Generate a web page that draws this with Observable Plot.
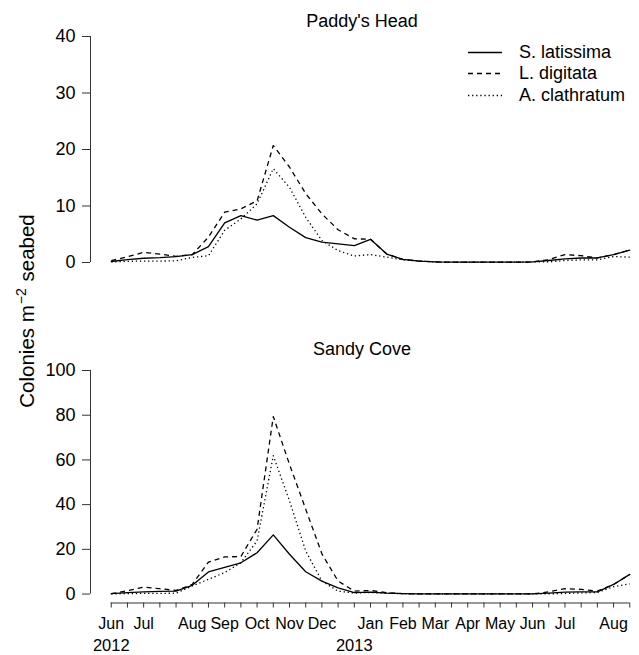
<!DOCTYPE html>
<html><head><meta charset="utf-8">
<script src="https://cdn.jsdelivr.net/npm/d3@7"></script>
<script src="https://cdn.jsdelivr.net/npm/@observablehq/plot@0.6"></script>
<style>
body{margin:0;background:#fff;font-family:"Liberation Sans",Arial,sans-serif;color:#000;}
#chart{position:relative;width:639px;height:655px;overflow:hidden;background:#fff;}
#chart > svg{position:absolute;left:0;}
.title{position:absolute;font-size:18px;line-height:18px;white-space:nowrap;transform:translateX(-50%);}
.ylab{position:absolute;font-size:20.5px;line-height:21px;white-space:nowrap;transform:translate(-50%,-50%) rotate(-90deg);}
.ylab sup{font-size:14px;vertical-align:8px;line-height:0;margin:0 1px;}
#legend{position:absolute;left:468px;top:42px;font-size:18px;}
#legend .row{display:flex;align-items:center;height:21.3px;}
#legend .row span{margin-left:17px;white-space:nowrap;}
</style></head><body><div id="chart"></div>
<script>
// ---- data ----
const sampleIndex = d3.range(33);
const monthTickIndex = [0,2,5,7,9,11,13,16,18,20,22,24,26,28,31];
const monthLabels = ["Jun","Jul","Aug","Sep","Oct","Nov","Dec","Jan","Feb","Mar","Apr","May","Jun","Jul","Aug"];
const yearTickIndex = [0,15];
const yearLabels = ["2012","2013"];
const species = ["S. latissima","L. digitata","A. clathratum"];
const panelTitles = ["Paddy's Head","Sandy Cove"];

const paddysLatissima = [0.18,0.5,0.75,0.85,1.05,1.4,2.8,7.0,8.3,7.5,8.3,6.25,4.4,3.6,3.3,3.0,4.1,1.5,0.55,0.25,0.1,0.05,0.05,0.05,0.05,0.05,0.1,0.35,0.65,0.8,0.8,1.4,2.2];
const paddysDigitata  = [0.35,1.0,1.8,1.5,1.1,1.4,4.5,8.9,9.5,10.9,20.7,16.9,12.2,8.6,5.8,4.2,4.1,1.5,0.55,0.25,0.1,0.05,0.05,0.05,0.05,0.05,0.1,0.5,1.4,1.2,0.8,1.4,2.2];
const paddysClathratum= [0.1,0.2,0.25,0.25,0.3,0.9,1.2,5.7,7.7,10.4,16.6,13.3,8.0,3.9,2.1,1.15,1.4,0.95,0.47,0.24,0.1,0.05,0.05,0.05,0.05,0.05,0.1,0.1,0.35,0.47,0.47,1.06,0.94];

const sandyLatissima  = [0.15,0.6,1.0,1.2,1.3,3.9,9.9,11.9,14.0,18.5,26.5,17.8,10.0,5.8,2.8,0.6,0.9,0.45,0.2,0.05,0.05,0.05,0.05,0.05,0.05,0.05,0.05,0.4,0.9,1.0,1.0,4.3,8.8];
const sandyDigitata   = [0.15,1.5,3.1,2.4,1.6,4.3,14.3,16.6,16.8,29,79.4,58,38,18,5.8,1.3,1.6,0.6,0.2,0.05,0.05,0.05,0.05,0.05,0.05,0.05,0.05,1.0,2.4,2.1,1.3,4.3,8.8];
const sandyClathratum = [0.1,0.2,0.3,0.3,0.4,3.6,6.6,9.6,14,23.8,61.9,41.7,19.3,5.8,1.3,0.45,0.7,0.4,0.2,0.05,0.05,0.05,0.05,0.05,0.05,0.05,0.05,0.05,0.3,0.5,0.7,3.3,4.6];

const paddysTicks = [0,10,20,30,40];
const sandyTicks = [0,20,40,60,80,100];

// ---- styling ----
const dashes = [null, "5,4", "1.3,2.8"];
const xDomain = [-1.28, 32.6];

function panel({series, yDomain, yTicks, height, marginTop, marginBottom, showX}) {
  const marks = [
    Plot.ruleX([xDomain[0]], {y1: yTicks[0], y2: yTicks[yTicks.length - 1], stroke: "#333", strokeWidth: 1}),
    Plot.axisY({ticks: yTicks, tickSize: 8, tickPadding: 7, fontSize: 18, stroke: "#333", label: null})
  ];
  species.forEach((s, k) => {
    const rows = series[k].map((v, i) => ({i: sampleIndex[i], v}));
    marks.push(Plot.line(rows, {x: "i", y: "v", stroke: "#000", strokeWidth: 1.3,
      strokeDasharray: dashes[k], strokeLinecap: k ? "butt" : "round", strokeLinejoin: "round"}));
  });
  if (showX) {
    marks.push(
      Plot.ruleY([yDomain[0]], {x1: sampleIndex[0], x2: sampleIndex[sampleIndex.length - 1], stroke: "#333"}),
      Plot.axisX({ticks: sampleIndex, tickSize: 5, stroke: "#333", tickFormat: () => "", label: null}),
      Plot.axisX({ticks: monthTickIndex, tickSize: 0, tickPadding: 14.8, fontSize: 16, label: null,
        tickFormat: d => monthLabels[monthTickIndex.indexOf(d)]}),
      Plot.axisX({ticks: yearTickIndex, tickSize: 0, tickPadding: 36, fontSize: 16.5, label: null,
        tickFormat: d => yearLabels[yearTickIndex.indexOf(d)]})
    );
  }
  return Plot.plot({
    width: 639, height, marginLeft: 90, marginRight: 0, marginTop, marginBottom,
    x: {domain: xDomain, label: null, ...(showX ? {} : {axis: null})},
    y: {domain: yDomain, label: null},
    style: {fontFamily: "Liberation Sans, Arial, sans-serif", fontSize: "18px", color: "#000", background: "transparent", overflow: "visible"},
    marks
  });
}

const chart = document.getElementById("chart");

const topPlot = panel({series: [paddysLatissima, paddysDigitata, paddysClathratum],
  yDomain: [0, 40], yTicks: paddysTicks, height: 290, marginTop: 36, marginBottom: 28, showX: false});
topPlot.style.top = "0px";
chart.appendChild(topPlot);

const bottomPlot = panel({series: [sandyLatissima, sandyDigitata, sandyClathratum],
  yDomain: [-4, 100], yTicks: sandyTicks, height: 325, marginTop: 40, marginBottom: 52.5, showX: true});
bottomPlot.style.top = "330px";
chart.appendChild(bottomPlot);

// titles
[[panelTitles[0], 11.5], [panelTitles[1], 339.5]].forEach(([t, y]) => {
  const d = document.createElement("div");
  d.className = "title"; d.textContent = t;
  d.style.left = "362px"; d.style.top = y + "px";
  chart.appendChild(d);
});

// y label
const yl = document.createElement("div");
yl.className = "ylab";
yl.innerHTML = "Colonies m<sup>\u22122</sup> seabed";
yl.style.left = "26px"; yl.style.top = "311px";
chart.appendChild(yl);

// legend
const lg = document.createElement("div");
lg.id = "legend";
species.forEach((s, k) => {
  const row = document.createElement("div");
  row.className = "row";
  row.innerHTML = `<svg width="34" height="21" style="display:block"><line x1="0" x2="34" y1="10.5" y2="10.5" stroke="#000" stroke-width="1.3" ${dashes[k] ? `stroke-dasharray="${dashes[k]}"` : ""}/></svg><span>${s}</span>`;
  lg.appendChild(row);
});
chart.appendChild(lg);
</script></body></html>
